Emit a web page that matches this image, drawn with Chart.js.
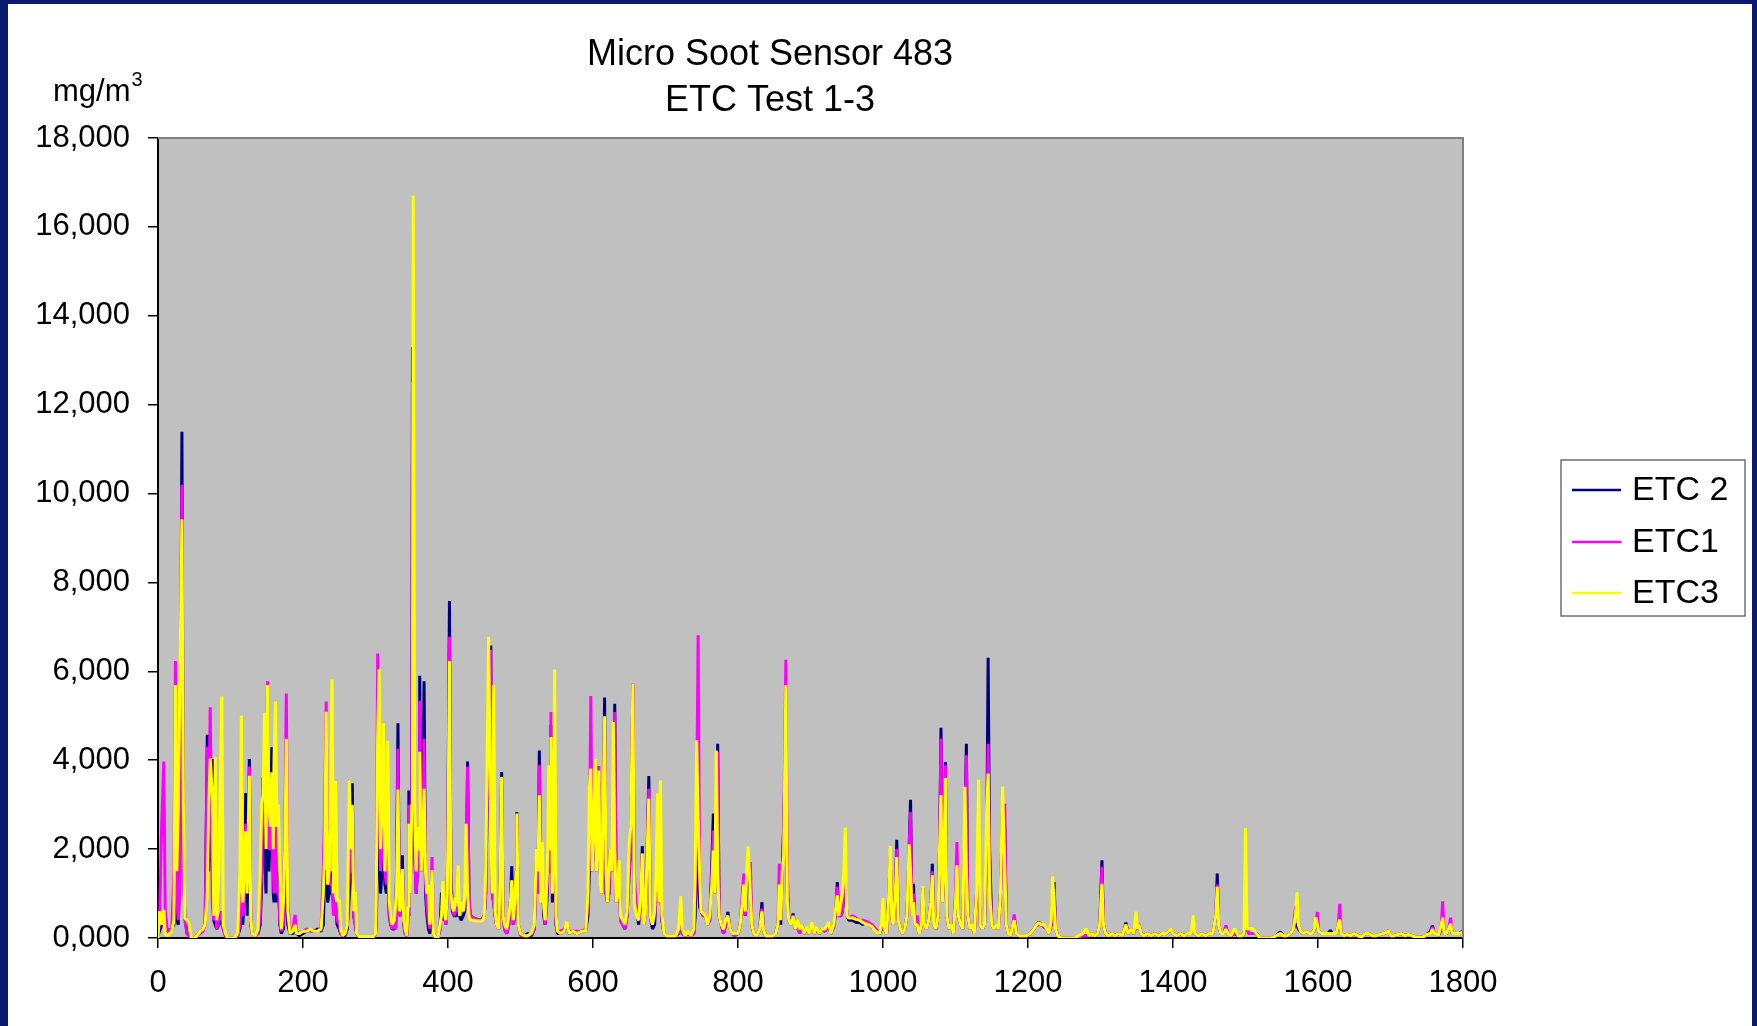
<!DOCTYPE html>
<html>
<head>
<meta charset="utf-8">
<title>Micro Soot Sensor 483</title>
<script src="https://cdn.jsdelivr.net/npm/chart.js@4.4.0/dist/chart.umd.min.js"></script>
<style>
    html, body { margin: 0; padding: 0; background: #fff; }
    #wrap { width: 1757px; height: 1026px; }
</style>
</head>
<body>
<div id="wrap"><canvas id="sootChart" width="1757" height="1026"></canvas></div>
<script>
// test time in seconds
var seconds = [
    0, 2, 5, 8, 10, 13, 16, 19, 22, 24,
    26, 28, 30, 33, 35, 37, 40, 43, 46, 50,
    54, 58, 62, 65, 68, 70, 72, 75, 77, 79,
    81, 84, 88, 90, 93, 96, 100, 105, 110, 113,
    115, 117, 119, 121, 123, 126, 128, 130, 134, 138,
    141, 143, 145, 147, 149, 151, 153, 155, 157, 159,
    160, 162, 164, 166, 168, 170, 173, 175, 177, 179,
    182, 186, 189, 191, 195, 200, 205, 210, 215, 220,
    225, 228, 230, 232, 234, 236, 238, 240, 242, 245,
    247, 250, 252, 255, 258, 261, 264, 266, 268, 270,
    272, 274, 278, 285, 292, 297, 300, 301, 303, 305,
    307, 309, 311, 313, 315, 317, 319, 321, 323, 326,
    328, 329, 331, 333, 335, 337, 339, 341, 343, 345,
    346, 348, 350, 351, 352, 354, 356, 358, 360, 361, 363,
    365, 367, 369, 371, 373, 375, 378, 380, 383, 386,
    389, 391, 393, 395, 397, 399, 400, 402, 404, 406,
    408, 410, 412, 414, 416, 418, 421, 423, 425, 427,
    429, 431, 435, 440, 445, 448, 450, 452, 454, 456,
    459, 461, 463, 465, 467, 470, 472, 474, 476, 478,
    481, 484, 486, 488, 490, 492, 494, 495, 497, 500,
    505, 510, 515, 519, 522, 524, 526, 528, 530, 532,
    534, 537, 539, 541, 542, 544, 546, 547, 549, 551,
    555, 560, 564, 567, 572, 578, 584, 590, 593, 595,
    597, 599, 601, 603, 605, 608, 610, 612, 614, 616,
    618, 620, 622, 624, 626, 628, 630, 632, 634, 636,
    638, 641, 644, 647, 650, 652, 655, 657, 660, 663,
    666, 668, 670, 672, 674, 677, 679, 682, 685, 687,
    689, 691, 693, 695, 698, 702, 708, 714, 718, 721,
    723, 727, 731, 735, 739, 741, 743, 745, 747, 749,
    752, 755, 758, 761, 764, 766, 768, 770, 772, 774,
    777, 780, 783, 786, 789, 792, 795, 800, 803, 806,
    808, 810, 812, 814, 817, 819, 822, 826, 830, 833,
    835, 838, 843, 848, 852, 855, 857, 859, 861, 863,
    866, 868, 870, 873, 876, 879, 882, 885, 888, 891,
    895, 898, 902, 905, 908, 912, 916, 920, 925, 928,
    932, 935, 937, 939, 942, 944, 946, 948, 950, 953,
    958, 963, 968, 972, 976, 980, 985, 990, 995, 998,
    1000, 1002, 1005, 1008, 1010, 1012, 1014, 1017, 1019, 1021,
    1024, 1027, 1030, 1033, 1036, 1038, 1040, 1042, 1044, 1047,
    1050, 1053, 1055, 1057, 1060, 1063, 1066, 1068, 1070, 1073,
    1076, 1078, 1080, 1082, 1084, 1086, 1088, 1091, 1094, 1097,
    1100, 1102, 1104, 1107, 1110, 1113, 1115, 1117, 1120, 1123,
    1126, 1129, 1132, 1134, 1137, 1140, 1143, 1145, 1147, 1150,
    1153, 1156, 1159, 1162, 1165, 1168, 1170, 1173, 1176, 1179,
    1181, 1184, 1188, 1193, 1198, 1203, 1208, 1212, 1215, 1218,
    1222, 1226, 1229, 1232, 1234, 1236, 1238, 1241, 1246, 1252,
    1258, 1264, 1270, 1276, 1280, 1284, 1288, 1292, 1296, 1299,
    1302, 1304, 1307, 1311, 1316, 1320, 1325, 1330, 1333, 1335,
    1338, 1342, 1346, 1349, 1351, 1353, 1356, 1360, 1365, 1370,
    1375, 1380, 1385, 1390, 1394, 1397, 1400, 1405, 1410, 1415,
    1420, 1425, 1428, 1430, 1435, 1440, 1445, 1450, 1455, 1459,
    1461, 1463, 1466, 1470, 1473, 1476, 1480, 1485, 1490, 1495,
    1498, 1500, 1502, 1505, 1510, 1515, 1520, 1528, 1535, 1542,
    1548, 1552, 1557, 1562, 1566, 1569, 1571, 1573, 1576, 1580,
    1584, 1588, 1592, 1595, 1597, 1599, 1601, 1605, 1610, 1614,
    1617, 1620, 1625, 1628, 1630, 1632, 1636, 1640, 1645, 1650,
    1655, 1660, 1665, 1670, 1675, 1680, 1685, 1690, 1695, 1697,
    1700, 1705, 1710, 1715, 1720, 1725, 1730, 1735, 1740, 1745,
    1750, 1755, 1758, 1760, 1763, 1766, 1770, 1772, 1774, 1777,
    1780, 1783, 1785, 1790, 1795, 1800
];

// ETC 2 (mg/m3)
var etc2 = [
    50, 150, 300, 400, 300, 150, 150, 200, 300, 3000,
    400, 300, 1500, 11390, 2000, 500, 100, 50, 0, 0,
    50, 150, 200, 300, 4570, 1500, 2000, 4025, 400, 300,
    200, 300, 400, 200, 50, 0, 0, 0, 50, 200,
    500, 300, 1000, 3260, 500, 4025, 300, 100, 50, 100,
    300, 1200, 3610, 2000, 1000, 4500, 1500, 2500, 4290, 1000,
    800, 2000, 800, 1500, 300, 100, 200, 1000, 2000, 300,
    100, 100, 200, 100, 50, 100, 150, 195, 150, 200,
    150, 300, 1500, 1500, 800, 1000, 1500, 1000, 800, 700,
    300, 200, 100, 50, 50, 200, 1000, 1500, 3480, 500,
    300, 100, 0, 0, 0, 0, 100, 300, 2000, 2500,
    1000, 1500, 2000, 1200, 1000, 1500, 500, 300, 200, 200,
    300, 1500, 4830, 500, 600, 1860, 300, 100, 50, 500,
    3320, 1000, 3000, 13300, 3000, 2000, 1000, 1500, 2500, 5900, 1500,
    2000, 5775, 1000, 500, 200, 100, 1000, 100, 0, 0,
    200, 1025, 400, 600, 300, 1000, 3000, 7580, 1500, 600,
    500, 500, 500, 700, 500, 400, 500, 600, 1000, 3970,
    800, 500, 450, 420, 400, 450, 500, 1000, 3000, 3500,
    6580, 1000, 800, 500, 300, 200, 1500, 3735, 500, 200,
    100, 300, 800, 1620, 300, 500, 1500, 2835, 300, 100,
    50, 100, 50, 200, 1750, 1000, 4220, 1000, 1500, 500,
    300, 1000, 2500, 1500, 4800, 800, 2000, 2500, 300, 100,
    100, 150, 300, 100, 150, 100, 150, 150, 500, 1500,
    2500, 1500, 2500, 3000, 1500, 3500, 1500, 1000, 2500, 5410,
    1000, 800, 1000, 2000, 1500, 2500, 5270, 800, 1000, 1500,
    400, 300, 200, 500, 1500, 2000, 5720, 1000, 620, 300,
    800, 2070, 300, 500, 1500, 3645, 500, 200, 300, 1000,
    1000, 800, 1500, 400, 100, 50, 50, 50, 100, 400,
    100, 50, 100, 50, 100, 500, 2050, 1500, 700, 600,
    500, 500, 300, 400, 1750, 2800, 1000, 2000, 4370, 500,
    300, 100, 300, 585, 200, 100, 50, 100, 300, 800,
    1000, 500, 1000, 1500, 1200, 300, 100, 50, 200, 810,
    200, 50, 50, 50, 100, 300, 800, 300, 1500, 2570,
    4500, 1000, 400, 300, 550, 200, 300, 100, 300, 100,
    200, 100, 300, 100, 200, 100, 200, 150, 300, 100,
    250, 600, 1260, 500, 500, 600, 1000, 1500, 500, 400,
    400, 350, 350, 300, 350, 300, 250, 200, 100, 200,
    400, 200, 100, 1000, 1820, 500, 300, 1000, 2210, 400,
    200, 100, 200, 500, 2000, 3110, 500, 1220, 300, 300,
    100, 300, 1130, 300, 200, 400, 800, 1670, 300, 200,
    500, 2000, 4730, 800, 1500, 3960, 500, 200, 300, 100,
    800, 1500, 500, 300, 200, 2500, 4370, 500, 200, 300,
    100, 1000, 1500, 300, 200, 300, 2000, 6307, 2000, 300,
    200, 300, 200, 1000, 3000, 2500, 300, 100, 50, 300,
    450, 100, 50, 50, 50, 100, 200, 300, 360, 300,
    250, 200, 100, 300, 1000, 1260, 200, 50, 0, 0,
    0, 0, 0, 50, 50, 50, 100, 50, 100, 300,
    1750, 300, 100, 50, 100, 50, 100, 50, 200, 350,
    100, 200, 100, 300, 200, 300, 100, 50, 100, 50,
    100, 50, 100, 100, 150, 200, 100, 50, 100, 50,
    100, 100, 300, 100, 50, 100, 50, 100, 100, 500,
    1450, 300, 100, 100, 200, 100, 50, 100, 50, 50,
    100, 300, 200, 100, 100, 100, 0, 0, 0, 50,
    135, 50, 50, 100, 200, 300, 300, 200, 150, 100,
    150, 100, 100, 200, 300, 300, 150, 100, 100, 100,
    170, 100, 100, 300, 300, 100, 50, 80, 50, 100,
    50, 20, 100, 100, 50, 50, 80, 100, 130, 170,
    50, 50, 80, 100, 50, 80, 50, 20, 20, 20,
    80, 150, 280, 100, 100, 50, 200, 300, 100, 100,
    200, 300, 100, 100, 100, 150
];

// ETC1 (mg/m3)
var etc1 = [
    100, 300, 2500, 3970, 600, 150, 200, 150, 1500, 6230,
    800, 400, 1200, 10190, 1500, 400, 100, 50, 0, 0,
    50, 100, 150, 300, 4300, 2500, 5190, 700, 400, 1000,
    200, 400, 600, 200, 50, 0, 0, 0, 50, 300,
    1000, 500, 800, 2570, 1500, 3860, 300, 100, 50, 100,
    500, 1500, 3400, 2500, 3330, 5775, 2000, 2000, 3500, 1500,
    1000, 2500, 1000, 1200, 400, 150, 300, 2500, 5500, 800,
    150, 200, 520, 150, 100, 150, 200, 150, 150, 150,
    250, 1500, 3000, 5320, 1500, 1500, 1200, 1200, 500, 800,
    400, 300, 100, 50, 100, 300, 1500, 1500, 2770, 500,
    300, 100, 0, 0, 0, 0, 100, 500, 6400, 3000,
    1500, 2000, 2500, 1500, 1200, 2000, 600, 300, 200, 300,
    200, 1000, 4250, 500, 500, 1500, 300, 100, 50, 500,
    3000, 1500, 3000, 12500, 3000, 2000, 1000, 1500, 2000, 5330, 1500,
    2000, 4480, 1200, 700, 400, 200, 1820, 100, 0, 0,
    200, 600, 500, 500, 300, 1000, 2500, 6775, 1000, 700,
    500, 600, 600, 700, 500, 600, 600, 700, 1000, 3860,
    900, 500, 450, 420, 400, 450, 500, 1000, 3000, 3500,
    6480, 1000, 800, 500, 300, 200, 1000, 3500, 500, 200,
    100, 300, 700, 1200, 300, 500, 1500, 2700, 300, 50,
    50, 50, 100, 200, 1500, 1000, 3885, 1500, 1500, 800,
    300, 1200, 3000, 1500, 5085, 1000, 2000, 2500, 400, 150,
    150, 200, 300, 150, 150, 150, 150, 200, 800, 2000,
    5445, 1500, 2500, 3000, 1500, 3870, 1500, 1000, 2500, 4800,
    1000, 800, 1000, 2000, 1500, 2500, 5085, 800, 1000, 1500,
    400, 300, 200, 500, 1500, 2000, 5700, 1500, 500, 400,
    800, 1900, 300, 500, 1500, 3360, 500, 300, 500, 1000,
    1000, 800, 1500, 400, 100, 50, 50, 50, 100, 500,
    100, 50, 100, 50, 100, 1000, 3000, 6810, 1500, 600,
    500, 500, 300, 400, 1500, 2420, 1000, 2000, 4185, 500,
    300, 100, 300, 500, 200, 100, 50, 100, 300, 1000,
    1450, 500, 1200, 1500, 1710, 300, 100, 50, 200, 660,
    200, 50, 50, 50, 100, 300, 1670, 500, 1500, 2300,
    6260, 1500, 500, 300, 500, 200, 300, 100, 300, 100,
    200, 100, 300, 100, 200, 100, 200, 150, 300, 100,
    250, 600, 1150, 500, 500, 600, 1000, 1500, 500, 450,
    500, 450, 400, 400, 380, 350, 300, 200, 100, 200,
    400, 200, 100, 1000, 1800, 500, 300, 1000, 2000, 400,
    200, 100, 200, 500, 2000, 2835, 500, 1000, 300, 510,
    100, 300, 1000, 300, 200, 400, 800, 1500, 300, 200,
    500, 2000, 4485, 800, 1500, 3885, 500, 200, 300, 100,
    1000, 2160, 500, 300, 200, 2500, 4110, 500, 200, 300,
    100, 1000, 1500, 300, 200, 300, 2000, 4370, 1500, 300,
    200, 300, 200, 1000, 2500, 3020, 300, 100, 50, 300,
    530, 100, 50, 50, 50, 100, 200, 300, 300, 300,
    250, 200, 100, 300, 1000, 1100, 200, 50, 0, 0,
    0, 0, 0, 50, 50, 50, 100, 50, 100, 300,
    1600, 300, 100, 50, 100, 50, 100, 50, 200, 300,
    100, 200, 100, 300, 200, 320, 100, 50, 100, 50,
    100, 50, 100, 100, 150, 200, 100, 50, 100, 50,
    100, 100, 300, 100, 50, 100, 50, 100, 100, 500,
    1200, 300, 100, 100, 285, 100, 50, 100, 50, 50,
    100, 300, 200, 100, 100, 100, 0, 0, 0, 50,
    100, 50, 50, 100, 200, 700, 700, 300, 150, 100,
    150, 100, 100, 200, 300, 585, 150, 100, 100, 100,
    100, 100, 100, 300, 770, 100, 50, 80, 50, 100,
    50, 20, 100, 100, 50, 50, 80, 100, 130, 170,
    50, 50, 80, 100, 50, 80, 50, 20, 20, 20,
    80, 100, 250, 100, 100, 50, 300, 825, 100, 100,
    200, 460, 100, 100, 100, 170
];

// ETC3 (mg/m3)
var etc3 = [
    0, 600, 300, 630, 100, 50, 100, 150, 400, 5690,
    1500, 2980, 5580, 9420, 3000, 440, 400, 300, 0, 0,
    50, 150, 200, 300, 1000, 3000, 4040, 3230, 500, 4070,
    400, 1500, 5440, 300, 100, 0, 0, 0, 100, 1500,
    5000, 800, 1500, 2400, 1000, 3650, 400, 100, 50, 200,
    1500, 3000, 3230, 5070, 2000, 5690, 3000, 2500, 3730, 2000,
    4000, 5320, 2500, 3000, 1500, 200, 800, 2000, 4480, 600,
    100, 150, 300, 100, 100, 150, 150, 200, 150, 150,
    200, 1000, 2000, 5090, 1200, 1500, 2500, 5820, 1000, 3530,
    855, 855, 200, 50, 100, 300, 3530, 2000, 3000, 600,
    1040, 100, 30, 30, 30, 30, 100, 1000, 4530, 6050,
    2000, 3000, 4830, 1500, 2500, 4440, 800, 500, 300, 400,
    800, 1000, 3340, 600, 700, 1550, 400, 200, 50, 700,
    2570, 1000, 3000, 3000, 16700, 3000, 1500, 2500, 2000, 4190, 1500,
    2000, 3360, 1500, 1000, 1200, 300, 1525, 100, 0, 0,
    300, 500, 1275, 600, 400, 1000, 2360, 6230, 1000, 700,
    600, 900, 800, 1630, 500, 800, 600, 900, 2570, 1000,
    500, 400, 400, 380, 380, 400, 500, 1500, 4000, 6775,
    2500, 1000, 5685, 600, 300, 200, 1500, 3620, 500, 300,
    200, 500, 800, 1300, 400, 800, 1500, 2800, 300, 100,
    50, 50, 100, 300, 2000, 1500, 3210, 800, 2160, 700,
    400, 1500, 3885, 2000, 4520, 1000, 3000, 6040, 500, 150,
    100, 150, 360, 100, 150, 100, 150, 150, 1000, 3360,
    3810, 1500, 2500, 4035, 1500, 3770, 1200, 1000, 3000, 4990,
    1500, 800, 1500, 2000, 1500, 4860, 2000, 800, 1000, 1750,
    500, 400, 300, 600, 2120, 2500, 5720, 800, 500, 400,
    1000, 1900, 300, 500, 1500, 3135, 500, 300, 600, 1500,
    3250, 800, 3550, 550, 100, 50, 50, 50, 200, 945,
    200, 50, 150, 50, 200, 1500, 4450, 2720, 1500, 600,
    550, 500, 300, 500, 1220, 1970, 1000, 4220, 1500, 500,
    300, 200, 400, 500, 200, 100, 100, 100, 300, 800,
    1200, 600, 1500, 2060, 1000, 300, 100, 50, 200, 600,
    200, 50, 50, 50, 100, 300, 1200, 400, 1500, 1820,
    5685, 800, 400, 300, 500, 200, 400, 200, 300, 100,
    250, 100, 350, 100, 250, 100, 200, 200, 350, 100,
    300, 700, 960, 500, 800, 1000, 1500, 2480, 500, 450,
    450, 420, 400, 350, 320, 300, 250, 150, 100, 300,
    900, 200, 100, 1000, 2070, 500, 300, 1000, 1820, 400,
    200, 100, 200, 500, 2110, 1500, 500, 800, 300, 300,
    100, 300, 1170, 300, 200, 400, 800, 1410, 300, 200,
    500, 2000, 3210, 800, 1500, 3600, 500, 200, 300, 100,
    800, 1635, 500, 300, 200, 3400, 1500, 500, 200, 300,
    100, 1000, 3560, 300, 200, 300, 2930, 3700, 1000, 300,
    200, 300, 200, 1000, 3410, 1500, 300, 100, 50, 300,
    400, 100, 50, 50, 50, 100, 200, 300, 350, 300,
    300, 200, 100, 400, 1390, 800, 200, 50, 0, 0,
    0, 0, 50, 100, 210, 50, 100, 50, 100, 300,
    1220, 300, 100, 50, 100, 50, 100, 50, 200, 300,
    100, 200, 100, 585, 200, 300, 100, 50, 100, 50,
    100, 50, 100, 100, 150, 210, 100, 50, 100, 50,
    100, 100, 510, 100, 50, 100, 50, 100, 100, 500,
    1150, 300, 100, 100, 200, 100, 50, 210, 50, 50,
    100, 2475, 200, 210, 210, 100, 0, 0, 0, 50,
    100, 50, 50, 100, 200, 500, 1030, 300, 150, 100,
    150, 100, 100, 200, 460, 300, 150, 100, 100, 100,
    100, 100, 100, 300, 410, 100, 50, 80, 50, 100,
    50, 20, 100, 100, 50, 50, 80, 100, 130, 170,
    50, 50, 80, 100, 50, 80, 50, 20, 20, 20,
    80, 100, 200, 100, 100, 50, 300, 460, 100, 100,
    200, 320, 100, 100, 100, 130
];

var seriesNames = ['ETC 2', 'ETC1', 'ETC3'];
var seriesColors = ['#000080', '#ff00ff', '#ffff00'];
var yTickLabels = ['0,000', '2,000', '4,000', '6,000', '8,000', '10,000', '12,000', '14,000', '16,000', '18,000'];
var xTickLabels = ['0', '200', '400', '600', '800', '1000', '1200', '1400', '1600', '1800'];
var titleLines = ['Micro Soot Sensor 483', 'ETC Test 1-3'];

var FONT = "'Liberation Sans', Arial, Helvetica, sans-serif";
var NAVY = '#0a1a6e';

function toPoints(values) {
    return seconds.map(function (t, i) { return { x: t, y: values[i] }; });
}

// page frame, plot background, title, unit label and boxed legend
var excelLook = {
    id: 'excelLook',
    beforeDraw: function (chart) {
        var ctx = chart.ctx, a = chart.chartArea;
        ctx.save();
        ctx.fillStyle = '#fff';
        ctx.fillRect(0, 0, chart.width, chart.height);
        ctx.fillStyle = NAVY;
        ctx.fillRect(0, 0, 8, chart.height);
        ctx.fillRect(0, 0, chart.width, 4);
        ctx.fillRect(chart.width - 5, 0, 5, chart.height);
        ctx.fillStyle = '#c0c0c0';
        ctx.fillRect(a.left, a.top, a.right - a.left, a.bottom - a.top);
        ctx.restore();
    },
    afterDraw: function (chart) {
        var ctx = chart.ctx, a = chart.chartArea;
        ctx.save();
        // grey frame on top and right of the plot
        ctx.strokeStyle = '#808080';
        ctx.lineWidth = 2;
        ctx.beginPath();
        ctx.moveTo(a.left, a.top);
        ctx.lineTo(a.right, a.top);
        ctx.lineTo(a.right, a.bottom);
        ctx.stroke();

        // title
        ctx.fillStyle = '#000';
        ctx.textAlign = 'center';
        ctx.textBaseline = 'middle';
        ctx.font = '36px ' + FONT;
        ctx.fillText(titleLines[0], 770, 55);
        ctx.fillText(titleLines[1], 770, 101);

        // unit
        ctx.textAlign = 'left';
        ctx.textBaseline = 'alphabetic';
        ctx.font = '31px ' + FONT;
        ctx.fillText('mg/m', 53, 101);
        var w = ctx.measureText('mg/m').width;
        ctx.font = '20px ' + FONT;
        ctx.fillText('3', 53 + w + 1, 86);

        // legend
        var lx = 1561, ly = 460, lw = 184, lh = 156;
        ctx.fillStyle = '#fff';
        ctx.fillRect(lx, ly, lw, lh);
        ctx.strokeStyle = '#707070';
        ctx.lineWidth = 1.5;
        ctx.strokeRect(lx, ly, lw, lh);
        ctx.font = '34px ' + FONT;
        ctx.textBaseline = 'middle';
        var rows = [490, 542, 593];
        chart.data.datasets.forEach(function (ds, i) {
            ctx.strokeStyle = ds.borderColor;
            ctx.lineWidth = 2.5;
            ctx.beginPath();
            ctx.moveTo(1572, rows[i]);
            ctx.lineTo(1621, rows[i]);
            ctx.stroke();
            ctx.fillStyle = '#000';
            ctx.fillText(ds.label, 1632, rows[i] + 1);
        });
        ctx.restore();
    }
};

var ctx = document.getElementById('sootChart');

var sootChart = new Chart(ctx, {
    type: 'line',
    data: {
        datasets: [
            { label: seriesNames[0], data: toPoints(etc2), borderColor: seriesColors[0], order: 3 },
            { label: seriesNames[1], data: toPoints(etc1), borderColor: seriesColors[1], order: 2 },
            { label: seriesNames[2], data: toPoints(etc3), borderColor: seriesColors[2], order: 1 }
        ]
    },
    options: {
        responsive: false,
        animation: false,
        devicePixelRatio: 1,
        layout: { padding: { left: 0, top: 138, right: 294, bottom: 0 } },
        elements: {
            line: { borderWidth: 3, tension: 0, borderJoinStyle: 'bevel', fill: false },
            point: { radius: 0, hoverRadius: 0 }
        },
        plugins: {
            legend: { display: false },
            title: { display: false },
            tooltip: { enabled: false }
        },
        scales: {
            x: {
                type: 'linear',
                min: 0,
                max: 1800,
                afterFit: function (scale) { scale.height = 88; },
                border: { color: '#000', width: 2 },
                grid: { drawOnChartArea: false, drawTicks: true, tickLength: 10, color: '#000', lineWidth: 1.5 },
                ticks: {
                    stepSize: 200,
                    maxRotation: 0,
                    autoSkip: false,
                    padding: 17,
                    color: '#000',
                    font: { family: FONT, size: 31 },
                    callback: function (v) { return xTickLabels[Math.round(v / 200)]; }
                }
            },
            y: {
                min: 0,
                max: 18000,
                afterFit: function (scale) { scale.width = 158; },
                border: { color: '#000', width: 2 },
                grid: { drawOnChartArea: false, drawTicks: true, tickLength: 10, color: '#000', lineWidth: 1.5 },
                ticks: {
                    stepSize: 2000,
                    padding: 18,
                    color: '#000',
                    font: { family: FONT, size: 31 },
                    callback: function (v) { return yTickLabels[Math.round(v / 2000)]; }
                }
            }
        }
    },
    plugins: [excelLook]
});
</script>
</body>
</html>
